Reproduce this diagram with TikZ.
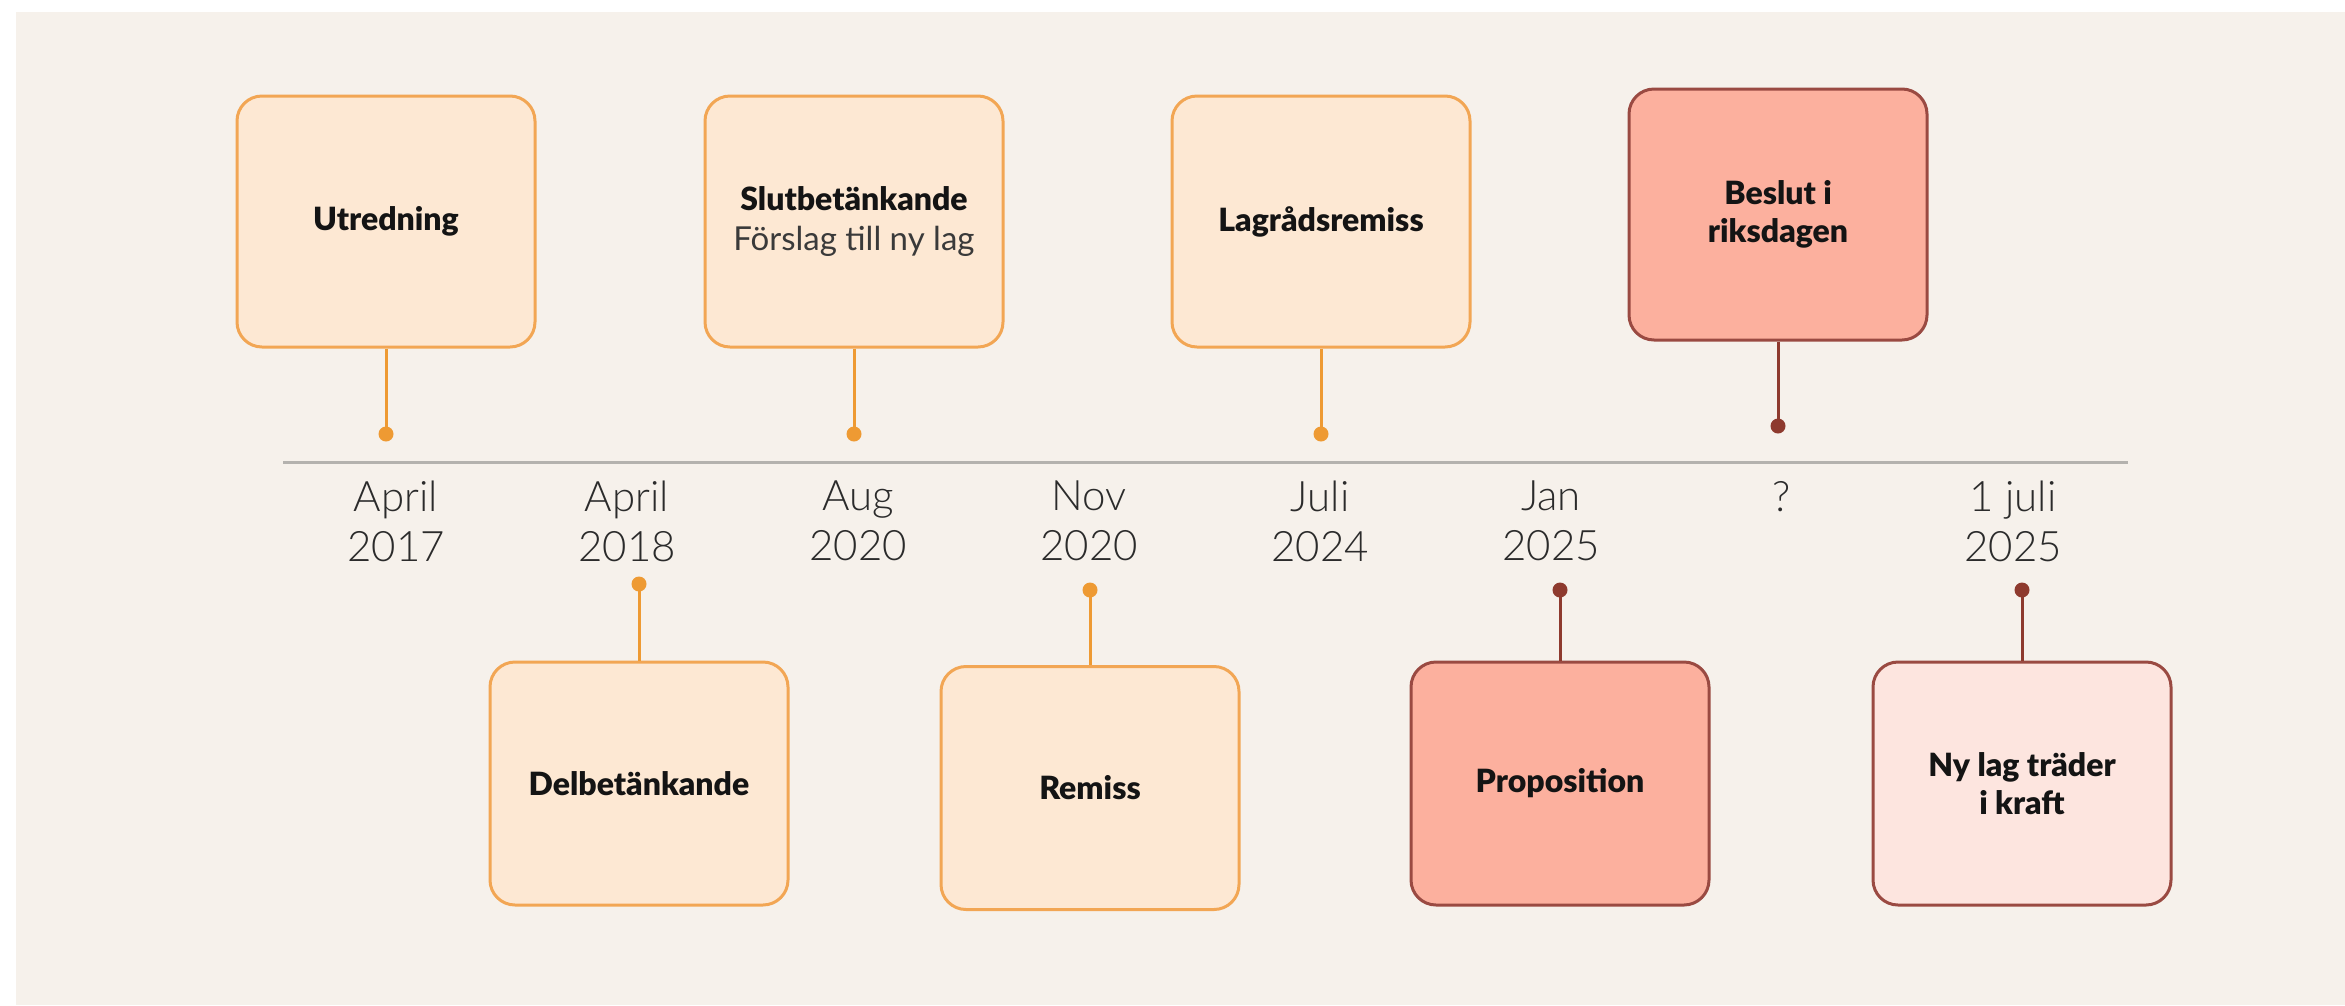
\documentclass[tikz,border=0pt]{standalone}
\usepackage{fontspec}
\setmainfont{Lato}
\newfontfamily\lblfont{Lato Black}
\newfontfamily\datefont{Lato Light}
\definecolor{bgc}{HTML}{F6F1EB}
\definecolor{ofill}{HTML}{FDE8D3}
\definecolor{oborder}{HTML}{F2A654}
\definecolor{ostemc}{HTML}{EE9A33}
\definecolor{rfill}{HTML}{FCB09E}
\definecolor{pfill}{HTML}{FDE5DF}
\definecolor{rborder}{HTML}{9A4A42}
\definecolor{rstemc}{HTML}{8E3A2E}
\definecolor{tlc}{HTML}{B4B2AE}
\definecolor{datec}{HTML}{2B2B2B}
\definecolor{labeltext}{HTML}{141414}
\definecolor{subtext}{HTML}{3A3A3A}
\begin{document}
\begin{tikzpicture}[x=1pt,y=-1pt,
  box/.style={line width=3pt, rounded corners=25pt, minimum width=298pt,
    align=center, inner sep=0pt, font=\lblfont\fontsize{32}{38}\selectfont, text=labeltext},
  obox/.style={box, draw=oborder, fill=ofill},
  rbox/.style={box, draw=rborder, fill=rfill},
  pbox/.style={box, draw=rborder, fill=pfill},
  topbox/.style={minimum height=251pt},
  botbox/.style={minimum height=243pt},
  odot/.style={circle, fill=ostemc, inner sep=0pt, minimum size=15pt},
  rdot/.style={circle, fill=rstemc, inner sep=0pt, minimum size=15pt},
  ostem/.style={draw=ostemc, line width=3pt},
  rstem/.style={draw=rstemc, line width=3pt},
  datelbl/.style={font=\datefont\fontsize{42}{50}\selectfont, text=datec, align=center, inner sep=0pt}
]
\useasboundingbox (0,0) rectangle (2345,1005);
\fill[white] (0,0) rectangle (2345,1005);
\fill[bgc] (16,12) rectangle (2345,1005);

% timeline
\coordinate (tlA) at (283,462);
\coordinate (tlB) at (2128,462);
\draw[tlc, line width=3pt] (tlA) -- (tlB);

% date labels
\node[datelbl] (d1) at (396,521) {April\\2017};
\node[datelbl] (d2) at (627,521) {April\\2018};
\node[datelbl] (d3) at (858,521) {Aug\\2020};
\node[datelbl] (d4) at (1089,521) {Nov\\2020};
\node[datelbl] (d5) at (1320,521) {Juli\\2024};
\node[datelbl] (d6) at (1551,521) {Jan\\2025};
\node[datelbl] (d7) at (1782,497) {?};
\node[datelbl] (d8) at (2013,521) {1 juli\\2025};

% top boxes
\node[obox, topbox] (b1) at (386,221.5) {Utredning};
\node[obox, topbox] (b3) at (854,221.5) {Slutbetänkande\\[2pt]{\fontspec{Lato}\fontsize{33}{38}\selectfont\color{subtext}Förslag till ny lag}};
\node[obox, topbox] (b5) at (1321,221.5) {Lagrådsremiss};
\node[rbox, topbox] (b7) at (1778,214.5) {Beslut i\\riksdagen};

% bottom boxes
\node[obox, botbox] (b2) at (639,783.5) {Delbetänkande};
\node[obox, botbox] (b4) at (1090,788) {Remiss};
\node[rbox, botbox] (b6) at (1560,783.5) {Proposition};
\node[pbox, botbox] (b8) at (2022,783.5) {Ny lag träder\\i kraft};

% dots
\node[odot] (p1) at (386,434) {};
\node[odot] (p3) at (854,434) {};
\node[odot] (p5) at (1321,434) {};
\node[rdot] (p7) at (1778,426) {};
\node[odot] (p2) at (639,584) {};
\node[odot] (p4) at (1090,590) {};
\node[rdot] (p6) at (1560,590) {};
\node[rdot] (p8) at (2022,590) {};

% stems
\draw[ostem] (b1.south) -- (p1.center);
\draw[ostem] (b3.south) -- (p3.center);
\draw[ostem] (b5.south) -- (p5.center);
\draw[rstem] (b7.south) -- (p7.center);
\draw[ostem] (b2.north) -- (p2.center);
\draw[ostem] (b4.north) -- (p4.center);
\draw[rstem] (b6.north) -- (p6.center);
\draw[rstem] (b8.north) -- (p8.center);
\end{tikzpicture}
\end{document}
